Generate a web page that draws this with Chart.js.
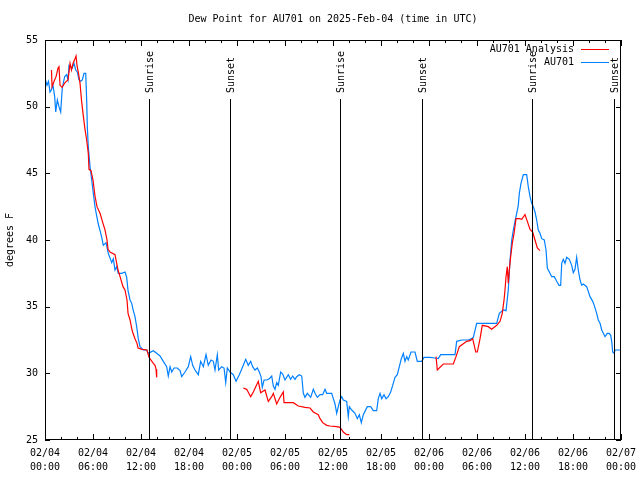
<!DOCTYPE html>
<html>
<head>
<meta charset="utf-8">
<script src="https://cdn.jsdelivr.net/npm/chart.js@4/dist/chart.umd.min.js"></script>
<style>
  html, body { margin: 0; padding: 0; background: #fff; }
</style>
</head>
<body>
<canvas id="myChart" width="640" height="480"></canvas>
<script>
// hours since 02/04 00:00 UTC
const obsHours = [0.06,0.25,0.44,0.63,0.79,1.0,1.21,1.34,1.54,1.75,1.96,2.16,2.46,2.71,2.88,3.0,3.21,3.41,3.63,3.84,4.04,4.25,4.46,4.66,4.88,5.09,5.21,5.29,5.41,5.63,5.84,6.04,6.25,6.46,6.66,6.88,7.09,7.29,7.63,7.91,8.34,8.54,8.75,8.96,9.16,9.59,10.0,10.21,10.38,10.63,10.84,11.0,11.25,11.46,11.66,11.88,12.29,12.71,12.91,13.54,13.96,14.38,14.79,15.21,15.41,15.63,15.84,16.13,16.54,16.88,17.09,17.5,17.91,18.21,18.46,18.75,19.16,19.46,19.79,20.13,20.41,20.75,21.04,21.25,21.54,21.71,22.09,22.38,22.59,22.79,23.13,23.54,23.88,24.29,24.71,25.09,25.41,25.71,25.96,26.25,26.54,26.79,27.0,27.16,27.38,27.71,28.04,28.34,28.54,28.75,28.96,29.16,29.46,29.71,30.0,30.41,30.71,30.96,31.25,31.46,31.79,32.09,32.29,32.5,32.79,33.21,33.54,33.75,34.04,34.38,34.71,35.0,35.21,35.84,36.04,36.25,36.46,36.66,36.88,37.09,37.29,37.71,37.91,38.04,38.34,38.75,39.04,39.29,39.54,39.79,40.29,40.71,41.04,41.46,41.66,41.88,42.09,42.38,42.63,42.91,43.21,43.46,43.75,44.04,44.29,44.54,44.79,45.0,45.21,45.41,45.75,46.25,46.54,47.09,47.38,48.13,48.75,49.16,49.46,51.25,51.46,52.09,52.91,53.34,53.54,53.96,54.79,55.63,56.46,56.79,57.29,57.63,57.91,58.13,58.34,58.54,58.75,58.96,59.16,59.29,59.5,59.79,60.21,60.41,60.63,60.84,61.04,61.25,61.46,61.66,61.88,62.09,62.41,62.63,62.79,63.04,63.34,63.66,63.96,64.25,64.46,64.59,64.79,65.0,65.21,65.54,65.84,66.04,66.25,66.46,66.66,66.88,67.09,67.29,67.71,67.91,68.13,68.46,68.66,68.96,69.16,69.38,69.59,69.79,70.0,70.29,70.54,70.71,70.84,70.96,71.13,71.25,72.0];
const obsDew = [52.0,51.6,51.9,51.1,51.25,51.6,50.75,49.6,50.5,50.0,49.6,51.4,52.25,52.4,52.0,53.1,53.0,52.9,53.25,52.75,52.6,52.0,51.9,52.0,52.5,52.5,50.5,48.5,47.0,45.5,44.5,43.5,42.5,41.8,41.2,40.7,40.2,39.6,39.8,39.0,38.3,38.6,37.75,38.0,37.5,37.5,37.6,37.2,36.2,35.5,35.25,34.8,34.25,33.5,32.6,32.0,31.75,31.75,31.5,31.7,31.5,31.3,30.9,30.5,29.8,30.5,30.1,30.4,30.4,30.2,29.75,30.1,30.5,31.25,30.6,30.25,29.9,30.9,30.5,31.4,30.6,31.0,30.9,30.25,31.4,30.25,30.5,30.4,29.3,30.4,30.1,29.9,29.4,29.9,30.5,31.05,30.6,30.9,30.5,30.25,30.4,30.1,29.75,28.95,29.5,29.5,29.6,29.8,29.05,28.8,29.3,29.1,30.1,29.95,29.5,29.9,29.55,29.8,29.55,29.75,29.9,29.8,28.5,28.2,28.5,28.2,28.8,28.5,28.2,28.4,28.4,28.8,28.5,28.5,28.1,27.7,27.0,27.5,28.0,28.25,28.0,27.9,26.75,27.5,27.25,27.0,26.6,26.9,26.3,26.9,27.5,27.5,27.2,27.2,28.1,28.5,28.1,28.4,28.1,28.25,28.6,29.1,29.7,29.9,30.5,31.1,31.5,30.9,31.25,31.0,31.6,31.6,30.9,30.9,31.2,31.2,31.15,31.1,31.4,31.4,32.4,32.5,32.5,32.6,32.7,33.75,33.75,33.75,33.75,34.5,34.75,34.7,36.25,38.5,40.0,40.75,41.4,42.0,42.6,43.5,44.25,44.9,44.9,44.0,43.25,42.75,42.5,42.1,41.5,40.75,40.5,40.1,40.0,39.25,37.9,37.6,37.25,37.25,36.9,36.6,36.6,38.25,38.55,38.25,38.7,38.55,38.1,37.55,37.8,38.7,37.75,37.0,36.6,36.7,36.5,36.15,35.75,35.4,35.1,34.5,34.0,33.75,33.25,33.0,32.75,33.0,33.0,32.85,32.4,31.6,31.5,31.75,31.75];

const anaHours = [0.81,0.88,1.13,1.38,1.63,1.75,1.88,2.13,2.5,2.88,3.13,3.31,3.5,3.75,3.88,4.0,4.19,4.38,4.56,4.75,5.0,5.21,5.41,5.5,5.75,6.0,6.25,6.5,6.88,7.25,7.5,7.75,7.88,8.13,8.75,8.88,9.13,9.38,9.75,10.0,10.25,10.38,10.63,10.88,11.0,11.25,11.5,11.63,12.13,12.75,13.0,13.54,13.75,13.88,13.96,
  19.0,
  24.79,25.21,25.71,26.04,26.66,26.96,27.5,27.91,28.34,28.54,28.96,29.38,29.79,29.88,31.04,31.66,32.5,33.13,33.54,34.16,34.38,34.71,35.21,35.63,36.46,36.88,37.29,37.71,38.04,
  43.0,
  48.88,49.04,49.79,51.04,51.38,51.79,52.71,53.13,53.46,53.84,54.04,54.38,54.66,55.41,55.84,56.46,56.88,57.16,57.38,57.5,57.63,57.79,57.91,58.04,58.21,58.41,58.63,58.88,59.29,59.59,60.0,60.29,60.63,60.96,61.25,61.54,61.88];
const anaDew = [52.75,51.5,51.9,52.25,52.9,53.0,51.6,51.45,51.8,52.0,53.25,52.75,53.25,53.6,53.8,53.1,52.5,51.75,50.5,49.5,48.3,47.5,46.5,45.3,45.2,44.5,43.3,42.5,42.0,41.25,40.75,40.0,39.3,39.1,38.9,38.5,37.75,37.25,36.5,36.25,35.5,34.5,34.0,33.25,33.0,32.6,32.25,31.9,31.8,31.75,31.2,30.75,30.6,30.3,29.7,
  null,
  28.9,28.8,28.25,28.6,29.4,28.55,28.75,27.9,28.25,28.5,27.7,28.2,28.6,27.8,27.8,27.55,27.45,27.4,27.1,26.9,26.6,26.3,26.1,26.05,26.0,25.95,25.6,25.4,25.4,
  null,
  31.25,30.25,30.7,30.7,31.25,32.0,32.4,32.45,32.6,31.6,31.6,32.6,33.6,33.5,33.3,33.6,33.9,34.5,35.5,36.25,37.25,38.0,36.75,37.75,38.75,39.75,40.5,41.6,41.6,41.55,41.9,41.4,40.8,40.6,40.0,39.4,39.2];

const tickDates = ['02/04','02/04','02/04','02/04','02/05','02/05','02/05','02/05','02/06','02/06','02/06','02/06','02/07'];
const tickTimes = ['00:00','06:00','12:00','18:00','00:00','06:00','12:00','18:00','00:00','06:00','12:00','18:00','00:00'];

const sunHours = [13.04, 23.16, 36.9, 47.16, 60.9, 71.16];
const sunLabels = ['Sunrise','Sunset','Sunrise','Sunset','Sunrise','Sunset'];

const FONT = '"DejaVu Sans Mono", "Liberation Mono", monospace';

function toPoints(hours, vals) {
  return hours.map(function(h, i) { return {x: h, y: vals[i]}; });
}

const decor = {
  id: 'decor',
  afterDraw(chart) {
    const ctx = chart.ctx;
    const a = chart.chartArea;
    const xs = chart.scales.x, ys = chart.scales.y;
    ctx.save();
    ctx.strokeStyle = '#000';
    ctx.lineWidth = 1;
    ctx.fillStyle = '#000';
    ctx.font = '10px ' + FONT;

    // border
    ctx.strokeRect(Math.round(a.left) + 0.5, Math.round(a.top) + 0.5,
                   Math.round(a.right - a.left) - 1, Math.round(a.bottom - a.top) - 1);

    // x ticks, every 2 hours, longer every 6
    ctx.beginPath();
    for (let h = 0; h <= 72; h += 2) {
      const px = Math.round(xs.getPixelForValue(h)) + 0.5;
      const len = (h % 6 === 0) ? 6 : 3;
      ctx.moveTo(px, a.bottom); ctx.lineTo(px, a.bottom - len);
      ctx.moveTo(px, a.top); ctx.lineTo(px, a.top + len);
    }
    for (let v = 25; v <= 55; v += 5) {
      const py = Math.round(ys.getPixelForValue(v)) + 0.5;
      ctx.moveTo(a.left, py); ctx.lineTo(a.left + 5, py);
      ctx.moveTo(a.right, py); ctx.lineTo(a.right - 5, py);
    }
    ctx.stroke();

    // sunrise / sunset markers
    sunHours.forEach(function(h, i) {
      const px = Math.round(xs.getPixelForValue(h)) + 0.5;
      ctx.beginPath();
      ctx.moveTo(px, 99);
      ctx.lineTo(px, a.bottom);
      ctx.stroke();
      ctx.save();
      ctx.translate(px + 1, 93);
      ctx.rotate(-Math.PI / 2);
      ctx.textAlign = 'left';
      ctx.textBaseline = 'middle';
      ctx.fillText(sunLabels[i], 0, 0);
      ctx.restore();
    });

    // title
    ctx.textAlign = 'center';
    ctx.textBaseline = 'middle';
    ctx.fillText('Dew Point for AU701 on 2025-Feb-04 (time in UTC)', (a.left + a.right) / 2, 19);

    // key
    const keys = [['AU701 Analysis', '#ff0000', 49], ['AU701', '#0080ff', 62]];
    keys.forEach(function(k) {
      ctx.fillStyle = '#000';
      ctx.textAlign = 'right';
      ctx.fillText(k[0], 574, k[2]);
      ctx.strokeStyle = k[1];
      ctx.beginPath();
      ctx.moveTo(581, k[2] + 0.5);
      ctx.lineTo(609, k[2] + 0.5);
      ctx.stroke();
    });
    ctx.restore();
  }
};

new Chart('myChart', {
  type: 'line',
  data: {
    datasets: [{
      label: 'AU701 Analysis',
      data: toPoints(anaHours, anaDew),
      borderColor: '#ff0000',
      borderWidth: 1.2,
      pointRadius: 0,
      tension: 0,
      spanGaps: false
    }, {
      label: 'AU701',
      data: toPoints(obsHours, obsDew),
      borderColor: '#0080ff',
      borderWidth: 1.2,
      pointRadius: 0,
      tension: 0
    }]
  },
  options: {
    responsive: false,
    animation: false,
    layout: { padding: { top: 40, right: 19, left: 0, bottom: 0 } },
    plugins: {
      legend: { display: false },
      tooltip: { enabled: false }
    },
    scales: {
      x: {
        type: 'linear',
        min: 0,
        max: 72,
        grid: { display: false, drawTicks: false },
        border: { display: false },
        ticks: {
          stepSize: 6,
          autoSkip: false,
          maxRotation: 0,
          color: '#000',
          padding: 6,
          font: { family: FONT, size: 10, lineHeight: 1.4 },
          callback: function(value) {
            const i = Math.round(value / 6);
            return [tickDates[i], tickTimes[i]];
          }
        },
        afterFit: function(scale) {
          scale.height = 40;
          scale.paddingLeft = 0;
          scale.paddingRight = 0;
        }
      },
      y: {
        min: 25,
        max: 55,
        grid: { display: false, drawTicks: false },
        border: { display: false },
        ticks: {
          stepSize: 5,
          color: '#000',
          padding: 7,
          font: { family: FONT, size: 10 }
        },
        title: {
          display: true,
          text: 'degrees F',
          color: '#000',
          padding: { top: 4, bottom: 0 },
          font: { family: FONT, size: 10 }
        },
        afterFit: function(scale) {
          scale.width = 45;
          scale.paddingTop = 0;
          scale.paddingBottom = 0;
        }
      }
    }
  },
  plugins: [decor]
});
</script>
</body>
</html>
